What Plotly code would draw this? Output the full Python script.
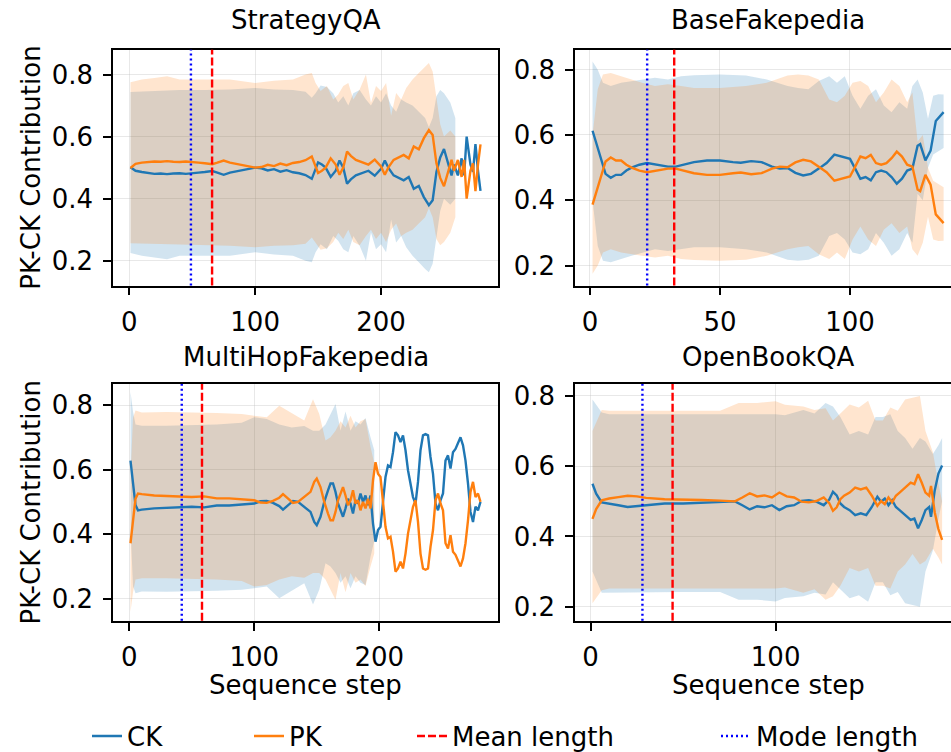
import plotly.graph_objects as go

W, H = 951, 770      # the window shows the top 752 px; extra height keeps the legend from pushing margins

titles = ["StrategyQA", "BaseFakepedia", "MultiHopFakepedia", "OpenBookQA"]
mean_len = [65.8, 32.4, 58.2, 44.3]
mode_len = [49, 22, 42, 28]
x_ticks = [[0, 100, 200], [0, 50, 100], [0, 100, 200], [0, 100]]
y_ticks = [0.2, 0.4, 0.6, 0.8]

# ---------------- StrategyQA ----------------
steps1 = [1,5,10,15,20,25,30,35,40,45,50,55,60,66,70,75,80,85,90,95,100,105,110,115,120,125,130,135,140,145,
          150,153,156,160,164,167,170,173,176,180,185,190,195,200,203,206,210,214,218,222,226,230,234,238,241,244,
          247,250,253,256,258,261,264,266,268,271,273,275,277,279]
ck1 = [0.501,0.490,0.486,0.483,0.480,0.481,0.479,0.481,0.482,0.480,0.481,0.484,0.486,0.489,0.484,0.477,0.484,0.488,
       0.492,0.497,0.500,0.498,0.491,0.495,0.487,0.492,0.485,0.482,0.476,0.464,0.517,0.510,0.500,0.470,0.490,0.523,
       0.500,0.448,0.462,0.475,0.482,0.490,0.474,0.496,0.523,0.498,0.475,0.466,0.459,0.470,0.432,0.441,0.405,0.379,
       0.395,0.486,0.533,0.560,0.520,0.475,0.510,0.475,0.530,0.475,0.600,0.510,0.486,0.576,0.490,0.425]
pk1 = [0.499,0.512,0.516,0.518,0.520,0.519,0.521,0.519,0.518,0.520,0.519,0.516,0.514,0.511,0.516,0.523,0.516,0.512,
       0.508,0.503,0.500,0.502,0.509,0.505,0.513,0.508,0.515,0.518,0.524,0.536,0.483,0.490,0.500,0.530,0.510,0.477,
       0.500,0.552,0.538,0.525,0.518,0.510,0.526,0.504,0.477,0.502,0.525,0.534,0.541,0.530,0.568,0.559,0.595,0.621,
       0.605,0.514,0.467,0.440,0.480,0.525,0.490,0.525,0.470,0.525,0.400,0.490,0.514,0.424,0.510,0.575]
band_steps1 = [1,10,20,30,40,60,80,100,115,130,140,145,148,152,157,162,166,170,174,178,183,188,192,196,200,204,
               208,212,216,220,225,230,235,238,241,244,247,250,255,259]
ck_hi1 = [0.744,0.745,0.748,0.748,0.750,0.750,0.752,0.757,0.752,0.750,0.745,0.725,0.740,0.765,0.760,0.740,0.710,
          0.730,0.700,0.740,0.750,0.720,0.700,0.730,0.710,0.740,0.700,0.680,0.720,0.710,0.700,0.680,0.660,0.630,
          0.660,0.730,0.750,0.740,0.710,0.660]
ck_lo1 = [0.225,0.216,0.211,0.205,0.216,0.216,0.216,0.227,0.220,0.216,0.200,0.195,0.227,0.253,0.237,0.280,0.264,
          0.237,0.227,0.280,0.248,0.200,0.291,0.237,0.253,0.227,0.333,0.259,0.280,0.243,0.216,0.195,0.173,0.163,
          0.190,0.280,0.360,0.400,0.380,0.400]
pk_hi1 = [0.775,0.784,0.789,0.795,0.784,0.784,0.784,0.773,0.780,0.784,0.800,0.805,0.773,0.747,0.763,0.720,0.736,
          0.763,0.773,0.720,0.752,0.800,0.709,0.763,0.747,0.773,0.667,0.741,0.720,0.757,0.784,0.805,0.827,0.837,
          0.810,0.720,0.640,0.600,0.620,0.600]
pk_lo1 = [0.256,0.255,0.252,0.252,0.250,0.250,0.248,0.243,0.248,0.250,0.255,0.275,0.260,0.235,0.240,0.260,0.290,
          0.270,0.300,0.260,0.250,0.280,0.300,0.270,0.290,0.260,0.300,0.320,0.280,0.290,0.300,0.320,0.340,0.370,
          0.340,0.270,0.250,0.260,0.290,0.340]

# ---------------- BaseFakepedia ----------------
steps2 = [1,3,5,6,8,10,12,14,16,19,22,26,30,33,36,40,45,50,55,58,62,66,70,73,76,79,82,85,88,91,94,97,100,102,104,
          106,108,110,112,114,116,118,120,122,124,126,127,129,131,133,136]
ck2 = [0.613,0.562,0.507,0.481,0.469,0.478,0.478,0.491,0.500,0.509,0.514,0.509,0.503,0.503,0.510,0.517,0.522,0.522,
       0.517,0.515,0.520,0.517,0.503,0.497,0.499,0.484,0.476,0.481,0.497,0.514,0.540,0.534,0.527,0.497,0.466,0.471,
       0.461,0.486,0.491,0.486,0.471,0.451,0.466,0.491,0.497,0.567,0.572,0.522,0.552,0.643,0.670]
pk2 = [0.387,0.438,0.493,0.519,0.531,0.522,0.522,0.509,0.500,0.491,0.486,0.491,0.497,0.497,0.490,0.483,0.478,0.478,
       0.483,0.485,0.480,0.483,0.497,0.503,0.501,0.516,0.524,0.519,0.503,0.486,0.460,0.466,0.473,0.503,0.534,0.529,
       0.539,0.514,0.509,0.514,0.529,0.549,0.534,0.509,0.503,0.433,0.428,0.478,0.448,0.357,0.330]
band_steps2 = [1,3,5,8,12,16,20,25,30,35,40,50,60,68,72,76,80,84,88,92,95,98,101,104,107,110,113,116,119,122,124,
               126,128,130,132,134,136]
ck_hi2 = [0.825,0.800,0.760,0.750,0.760,0.765,0.770,0.775,0.770,0.780,0.783,0.785,0.782,0.770,0.760,0.750,0.744,
          0.740,0.765,0.780,0.760,0.780,0.720,0.680,0.720,0.740,0.690,0.670,0.700,0.680,0.750,0.770,0.730,0.650,
          0.720,0.725,0.724]
ck_lo2 = [0.400,0.260,0.215,0.210,0.220,0.230,0.240,0.250,0.245,0.250,0.256,0.256,0.250,0.240,0.230,0.218,0.215,
          0.218,0.230,0.291,0.300,0.280,0.240,0.235,0.250,0.300,0.270,0.230,0.250,0.300,0.270,0.420,0.400,0.500,
          0.540,0.550,0.560]
pk_hi2 = [0.600,0.740,0.785,0.790,0.780,0.770,0.760,0.750,0.755,0.750,0.744,0.744,0.750,0.760,0.770,0.782,0.785,
          0.782,0.770,0.709,0.700,0.720,0.760,0.765,0.750,0.700,0.730,0.770,0.750,0.700,0.730,0.580,0.600,0.500,
          0.460,0.450,0.440]
pk_lo2 = [0.175,0.200,0.240,0.250,0.240,0.235,0.230,0.225,0.230,0.220,0.217,0.215,0.218,0.230,0.240,0.250,0.256,
          0.260,0.235,0.220,0.240,0.220,0.280,0.320,0.280,0.260,0.310,0.330,0.300,0.320,0.250,0.230,0.270,0.350,
          0.280,0.275,0.276]

# ---------------- MultiHopFakepedia ----------------
steps3 = [1,3,5,7,10,20,30,40,50,60,70,80,90,100,105,110,115,120,123,127,131,135,140,145,148,150,153,156,159,161,
          163,165,167,169,171,173,175,177,179,181,183,185,187,189,191,193,195,197,199,201,203,205,207,209,211,213,
          215,217,219,221,223,225,227,229,231,233,235,237,239,241,243,245,247,249,251,253,255,257,259,261,263,265,
          267,269,271,273,275,277,279,281]
ck3 = [0.628,0.557,0.490,0.474,0.476,0.480,0.482,0.485,0.485,0.483,0.489,0.489,0.491,0.495,0.502,0.503,0.497,0.487,
       0.476,0.490,0.503,0.500,0.485,0.469,0.438,0.428,0.454,0.500,0.536,0.557,0.557,0.531,0.495,0.474,0.454,0.480,
       0.510,0.495,0.464,0.505,0.495,0.526,0.500,0.520,0.490,0.520,0.433,0.377,0.413,0.423,0.495,0.577,0.613,0.608,
       0.654,0.716,0.706,0.685,0.706,0.660,0.598,0.557,0.515,0.495,0.562,0.660,0.706,0.710,0.706,0.639,0.587,0.495,
       0.474,0.505,0.526,0.628,0.644,0.603,0.654,0.664,0.685,0.700,0.675,0.628,0.557,0.469,0.438,0.485,0.474,0.500]
pk3 = [0.372,0.443,0.510,0.526,0.524,0.520,0.518,0.515,0.515,0.517,0.511,0.511,0.509,0.505,0.498,0.497,0.503,0.513,
       0.524,0.510,0.497,0.500,0.515,0.531,0.562,0.572,0.546,0.500,0.464,0.443,0.443,0.469,0.505,0.526,0.546,0.520,
       0.490,0.505,0.536,0.495,0.505,0.474,0.500,0.480,0.510,0.480,0.567,0.623,0.587,0.577,0.505,0.423,0.387,0.392,
       0.346,0.284,0.294,0.315,0.294,0.340,0.402,0.443,0.485,0.505,0.438,0.340,0.294,0.290,0.294,0.361,0.413,0.505,
       0.526,0.495,0.474,0.372,0.356,0.397,0.346,0.336,0.315,0.300,0.325,0.372,0.443,0.531,0.562,0.515,0.526,0.500]
band_steps3 = [1,3,5,10,30,50,70,90,100,110,120,130,140,147,152,157,161,165,169,173,177,181,185,189,193,196]
ck_hi3 = [0.840,0.780,0.740,0.736,0.736,0.737,0.740,0.745,0.762,0.757,0.740,0.730,0.735,0.720,0.720,0.740,0.772,
          0.803,0.720,0.780,0.720,0.750,0.740,0.760,0.700,0.660]
ck_lo3 = [0.420,0.240,0.217,0.223,0.222,0.223,0.225,0.228,0.233,0.238,0.202,0.225,0.248,0.182,0.228,0.310,0.300,
          0.280,0.250,0.270,0.233,0.270,0.250,0.243,0.330,0.380]
pk_hi3 = [0.580,0.760,0.783,0.777,0.778,0.777,0.775,0.772,0.767,0.762,0.798,0.775,0.752,0.818,0.772,0.690,0.700,
          0.720,0.750,0.730,0.767,0.730,0.750,0.757,0.670,0.620]
pk_lo3 = [0.160,0.220,0.260,0.264,0.264,0.263,0.260,0.255,0.238,0.243,0.260,0.270,0.265,0.280,0.280,0.260,0.228,
          0.197,0.280,0.220,0.280,0.250,0.260,0.240,0.300,0.340]

# ---------------- OpenBookQA ----------------
steps4 = [1,3,6,10,15,20,25,30,40,50,60,70,78,82,86,90,94,98,102,106,110,114,118,122,126,129,131,133,135,137,140,
          143,146,149,152,155,157,159,161,163,165,167,169,171,173,175,177,179,181,183,184,186,188,190]
ck4 = [0.550,0.522,0.497,0.494,0.489,0.484,0.486,0.490,0.494,0.494,0.496,0.498,0.500,0.489,0.477,0.486,0.483,0.489,
       0.475,0.486,0.489,0.501,0.503,0.499,0.489,0.505,0.527,0.517,0.494,0.484,0.475,0.461,0.466,0.461,0.484,0.513,
       0.499,0.508,0.489,0.503,0.484,0.475,0.466,0.456,0.447,0.451,0.423,0.447,0.475,0.484,0.456,0.531,0.579,0.602]
pk4 = [0.450,0.478,0.503,0.508,0.512,0.516,0.514,0.510,0.506,0.506,0.504,0.502,0.500,0.511,0.523,0.514,0.517,0.511,
       0.525,0.514,0.511,0.499,0.497,0.501,0.511,0.495,0.473,0.483,0.506,0.516,0.525,0.539,0.534,0.539,0.516,0.487,
       0.501,0.492,0.511,0.497,0.516,0.525,0.534,0.544,0.553,0.549,0.577,0.553,0.525,0.516,0.544,0.469,0.421,0.390]
band_steps4 = [1,6,10,30,50,70,80,90,100,105,115,121,127,131,135,140,145,150,154,158,162,166,170,174,178,181,185,
               188,190]
ck_hi4 = [0.790,0.753,0.748,0.748,0.748,0.748,0.748,0.748,0.748,0.745,0.760,0.750,0.780,0.770,0.740,0.690,0.700,
          0.690,0.740,0.740,0.748,0.700,0.680,0.650,0.680,0.670,0.635,0.660,0.680]
ck_lo4 = [0.300,0.240,0.242,0.242,0.242,0.242,0.220,0.220,0.215,0.225,0.230,0.240,0.235,0.270,0.250,0.224,0.233,
          0.214,0.270,0.270,0.233,0.242,0.210,0.205,0.200,0.300,0.360,0.450,0.500]
pk_hi4 = [0.700,0.760,0.758,0.758,0.758,0.758,0.780,0.780,0.785,0.775,0.770,0.760,0.765,0.730,0.750,0.776,0.767,
          0.786,0.730,0.730,0.767,0.758,0.790,0.795,0.800,0.700,0.640,0.550,0.500]
pk_lo4 = [0.210,0.247,0.252,0.252,0.252,0.252,0.252,0.252,0.252,0.255,0.240,0.250,0.220,0.230,0.260,0.310,0.300,
          0.310,0.260,0.260,0.252,0.300,0.320,0.350,0.320,0.330,0.365,0.340,0.320]

panels = [
    (steps1, ck1, pk1, band_steps1, ck_lo1, ck_hi1, pk_lo1, pk_hi1),
    (steps2, ck2, pk2, band_steps2, ck_lo2, ck_hi2, pk_lo2, pk_hi2),
    (steps3, ck3, pk3, band_steps3, ck_lo3, ck_hi3, pk_lo3, pk_hi3),
    (steps4, ck4, pk4, band_steps4, ck_lo4, ck_hi4, pk_lo4, pk_hi4),
]

CK_C = "#1f77b4"
PK_C = "#ff7f0e"
CK_F = "rgba(31,119,180,0.2)"
PK_F = "rgba(255,127,14,0.2)"
FONT = "DejaVu Sans"
FS = 26
LW = 2.4


def px_x(p):
    return p / W


def px_y(p):
    return 1 - p / H


# layout geometry (window pixels)
col_px = [(113, 498), (575, 951)]
row_px = [(47, 284), (383, 621)]
x_ranges = [[-12.9, 292.9], [-5.75, 138.85], [-13.0, 295.0], [-8.45, 194.8]]
y_ranges = [[0.120, 0.880], [0.139, 0.861], [0.132, 0.865], [0.160, 0.834]]
title_cx = [305.5, 768, 305.5, 768]
title_cy = [17, 17, 356, 356]

fig = go.Figure()

for i, (st, ck, pk, bst, cklo, ckhi, pklo, pkhi) in enumerate(panels):
    xa = "x" if i == 0 else f"x{i+1}"
    ya = "y" if i == 0 else f"y{i+1}"
    fig.add_trace(go.Scatter(x=bst + bst[::-1], y=ckhi + cklo[::-1], fill="toself", fillcolor=CK_F,
                             line=dict(width=0), mode="lines", hoverinfo="skip", showlegend=False,
                             xaxis=xa, yaxis=ya))
    fig.add_trace(go.Scatter(x=bst + bst[::-1], y=pkhi + pklo[::-1], fill="toself", fillcolor=PK_F,
                             line=dict(width=0), mode="lines", hoverinfo="skip", showlegend=False,
                             xaxis=xa, yaxis=ya))
    fig.add_trace(go.Scatter(x=st, y=ck, mode="lines", line=dict(color=CK_C, width=LW), name="CK",
                             showlegend=(i == 0), legend="legend", xaxis=xa, yaxis=ya))
    fig.add_trace(go.Scatter(x=st, y=pk, mode="lines", line=dict(color=PK_C, width=LW), name="PK",
                             showlegend=(i == 0), legend="legend2", xaxis=xa, yaxis=ya))
    fig.add_shape(type="line", xref=xa, yref=f"{ya} domain", x0=mean_len[i], x1=mean_len[i], y0=0, y1=1,
                  line=dict(color="red", width=2.4, dash="8px,3px"))
    fig.add_shape(type="line", xref=xa, yref=f"{ya} domain", x0=mode_len[i], x1=mode_len[i], y0=0, y1=1,
                  line=dict(color="blue", width=2.4, dash="2px,3px"))

fig.add_trace(go.Scatter(x=[None], y=[None], mode="lines", name="Mean length",
                         line=dict(color="red", width=2.4, dash="8px,3px"), legend="legend3"))
fig.add_trace(go.Scatter(x=[None], y=[None], mode="lines", name="Mode length",
                         line=dict(color="blue", width=2.4, dash="2px,3px"), legend="legend4"))

axis_common = dict(showline=True, linecolor="black", linewidth=1.6, ticks="outside", ticklen=8, tickwidth=1.5,
                   tickcolor="black", showgrid=True, gridcolor="rgba(190,190,190,0.35)", gridwidth=1,
                   zeroline=False, tickfont=dict(family=FONT, size=FS, color="black"))

layout = dict(width=W, height=H, margin=dict(l=0, r=0, t=0, b=0), plot_bgcolor="white", paper_bgcolor="white",
              font=dict(family=FONT, size=FS, color="black"))

for i in range(4):
    r, c = divmod(i, 2)
    xk = "xaxis" if i == 0 else f"xaxis{i+1}"
    yk = "yaxis" if i == 0 else f"yaxis{i+1}"
    ya = "y" if i == 0 else f"y{i+1}"
    xa = "x" if i == 0 else f"x{i+1}"
    x0, x1 = col_px[c]
    y0, y1 = row_px[r]
    layout[xk] = dict(axis_common, domain=[px_x(x0), min(1.0, px_x(x1))], range=x_ranges[i], anchor=ya,
                      tickvals=x_ticks[i], mirror=True, ticklabelstandoff=4)
    layout[yk] = dict(axis_common, domain=[px_y(y1), px_y(y0)], range=y_ranges[i], anchor=xa,
                      tickvals=y_ticks, tickformat=".1f", mirror=(c == 0), ticklabelstandoff=5)

annotations = []
for i in range(4):
    annotations.append(dict(text=titles[i], x=px_x(title_cx[i]), y=px_y(title_cy[i]), xref="paper",
                            yref="paper", xanchor="center", yanchor="middle", showarrow=False,
                            font=dict(family=FONT, size=FS, color="black")))
for r in range(2):
    y0, y1 = row_px[r]
    annotations.append(dict(text="PK-CK Contribution", x=px_x(31), y=px_y((y0 + y1) / 2), xref="paper",
                            yref="paper", xanchor="center", yanchor="middle", textangle=-90, showarrow=False,
                            font=dict(family=FONT, size=FS, color="black")))
for i in range(2, 4):
    annotations.append(dict(text="Sequence step", x=px_x(title_cx[i]), y=px_y(686), xref="paper",
                            yref="paper", xanchor="center", yanchor="middle", showarrow=False,
                            font=dict(family=FONT, size=FS, color="black")))
layout["annotations"] = annotations

leg_text_x = [128, 290, 453, 757]
for k, name in enumerate(["legend", "legend2", "legend3", "legend4"]):
    layout[name] = dict(orientation="h", x=px_x(leg_text_x[k] - 41), xanchor="left", y=px_y(737),
                        yanchor="middle", bgcolor="rgba(0,0,0,0)", borderwidth=0,
                        font=dict(family=FONT, size=FS, color="black"))

fig.update_layout(**layout)
fig.write_html("out.html", config={"displayModeBar": False},
               post_script="document.body.style.margin='0px';document.body.style.overflow='hidden';")
